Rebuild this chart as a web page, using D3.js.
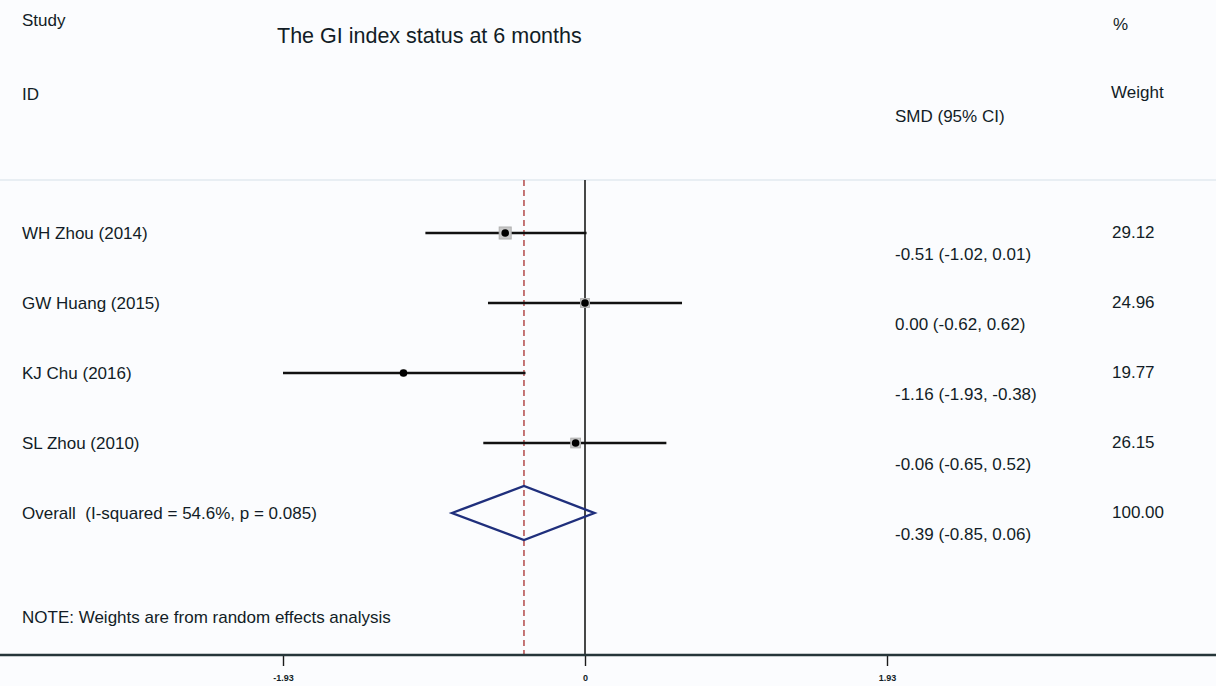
<!DOCTYPE html>
<html>
<head>
<meta charset="utf-8">
<script src="https://cdn.jsdelivr.net/npm/d3@7"></script>
<style>
  body { margin: 0; background: #fbfcfe; }
  svg { display: block; }
  text { font-family: "Liberation Sans", Arial, sans-serif; fill: #121c26; }
</style>
</head>
<body>
<div id="chart"></div>
<script>
// study data
var studies = ["WH Zhou (2014)", "GW Huang (2015)", "KJ Chu (2016)", "SL Zhou (2010)"];
var smd = [-0.51, 0.00, -1.16, -0.06];
var lower = [-1.02, -0.62, -1.93, -0.65];
var upper = [0.01, 0.62, -0.38, 0.52];
var weights = [29.12, 24.96, 19.77, 26.15];

// pooled estimate
var overallLabel = "Overall  (I-squared = 54.6%, p = 0.085)";
var overallSmd = -0.39;
var overallLower = -0.85;
var overallUpper = 0.06;
var overallWeight = 100.00;

var tickValues = [-1.93, 0, 1.93];
var tickLabels = ["-1.93", "0", "1.93"];

var width = 1216, height = 686;
var topLine = 180, axisY = 655;
var fs = "17px";

var svg = d3.select("#chart").append("svg")
    .attr("width", width)
    .attr("height", height);

var x = d3.scaleLinear()
    .domain([-1.93, 1.93])
    .range([283, 887]);

var y = d3.scalePoint()
    .domain(d3.range(studies.length + 1))
    .range([233, 513]);

function fmt(v) { return v.toFixed(2); }

// headers
svg.append("text").attr("x", 22).attr("y", 26).style("font-size", fs).text("Study");
svg.append("text").attr("x", 22).attr("y", 100).style("font-size", fs).text("ID");
svg.append("text").attr("x", 277).attr("y", 43).style("font-size", "21.5px").text("The GI index status at 6 months");
svg.append("text").attr("x", 1113).attr("y", 30).style("font-size", fs).text("%");
svg.append("text").attr("x", 1111).attr("y", 98).style("font-size", fs).text("Weight");
svg.append("text").attr("x", 895).attr("y", 122).style("font-size", fs).text("SMD (95% CI)");

// top separator
svg.append("line")
    .attr("x1", 0).attr("x2", width)
    .attr("y1", topLine).attr("y2", topLine)
    .attr("stroke", "#d6e0e7").attr("stroke-width", 1.2);

// null line
svg.append("line")
    .attr("x1", x(0)).attr("x2", x(0))
    .attr("y1", topLine).attr("y2", axisY)
    .attr("stroke", "#1a1a1a").attr("stroke-width", 1.6);

// overall effect dashed line
svg.append("line")
    .attr("x1", x(overallSmd)).attr("x2", x(overallSmd))
    .attr("y1", topLine).attr("y2", axisY)
    .attr("stroke", "#b34a4a").attr("stroke-width", 1.5)
    .attr("stroke-dasharray", "6,4");

// study rows
var rows = svg.selectAll(".row")
    .data(studies)
    .enter().append("g")
    .attr("class", "row");

rows.append("line")
    .attr("x1", (d, i) => x(lower[i]))
    .attr("x2", (d, i) => x(upper[i]))
    .attr("y1", (d, i) => y(i))
    .attr("y2", (d, i) => y(i))
    .attr("stroke", "#111")
    .attr("stroke-width", 2.5);

// weight boxes
var maxW = d3.max(weights);
var boxSize = w => 12 * Math.pow(w / maxW, 2);
rows.append("rect")
    .attr("x", (d, i) => x(smd[i]) - boxSize(weights[i]) / 2)
    .attr("y", (d, i) => y(i) - boxSize(weights[i]) / 2)
    .attr("width", (d, i) => boxSize(weights[i]))
    .attr("height", (d, i) => boxSize(weights[i]))
    .attr("fill", "#c8c8c8")
    .attr("stroke", "#b0b0b0");

rows.append("circle")
    .attr("cx", (d, i) => x(smd[i]))
    .attr("cy", (d, i) => y(i))
    .attr("r", 3.8)
    .attr("fill", "#000");

rows.append("text")
    .attr("x", 22)
    .attr("y", (d, i) => y(i) + 6)
    .style("font-size", fs)
    .text(d => d);

rows.append("text")
    .attr("x", 895)
    .attr("y", (d, i) => y(i) + 27)
    .style("font-size", fs)
    .text((d, i) => fmt(smd[i]) + " (" + fmt(lower[i]) + ", " + fmt(upper[i]) + ")");

rows.append("text")
    .attr("x", 1112)
    .attr("y", (d, i) => y(i) + 5)
    .style("font-size", fs)
    .text((d, i) => fmt(weights[i]));

// overall row
var oy = y(studies.length);
svg.append("path")
    .attr("d", "M" + x(overallLower) + "," + oy +
        "L" + x(overallSmd) + "," + (oy - 27) +
        "L" + x(overallUpper) + "," + oy +
        "L" + x(overallSmd) + "," + (oy + 27) + "Z")
    .attr("fill", "none")
    .attr("stroke", "#1f2f7c")
    .attr("stroke-width", 2.4);

svg.append("text")
    .attr("x", 22).attr("y", oy + 6)
    .style("font-size", fs)
    .style("white-space", "pre")
    .text(overallLabel);

svg.append("text")
    .attr("x", 895).attr("y", oy + 27)
    .style("font-size", fs)
    .text(fmt(overallSmd) + " (" + fmt(overallLower) + ", " + fmt(overallUpper) + ")");

svg.append("text")
    .attr("x", 1112).attr("y", oy + 5)
    .style("font-size", fs)
    .text(fmt(overallWeight));

svg.append("text")
    .attr("x", 22).attr("y", 623)
    .style("font-size", fs)
    .text("NOTE: Weights are from random effects analysis");

// x axis
var axis = d3.axisBottom(x)
    .tickValues(tickValues)
    .tickSize(11)
    .tickFormat((d, i) => tickLabels[i]);

var axisG = svg.append("g")
    .attr("transform", "translate(0," + axisY + ")")
    .call(axis);

axisG.select(".domain").remove();
axisG.selectAll(".tick line").attr("stroke", "#1a1a1a").attr("stroke-width", 1.4);
axisG.selectAll(".tick text")
    .attr("y", 20)
    .style("font-size", "9px")
    .style("font-weight", "bold")
    .style("font-family", "'Liberation Sans Narrow', 'Liberation Sans', Arial, sans-serif")
    .attr("fill", "#1b2530");

axisG.append("line")
    .attr("x1", 0).attr("x2", width)
    .attr("y1", 0).attr("y2", 0)
    .attr("stroke", "#26363a")
    .attr("stroke-width", 2.5);
</script>
</body>
</html>
